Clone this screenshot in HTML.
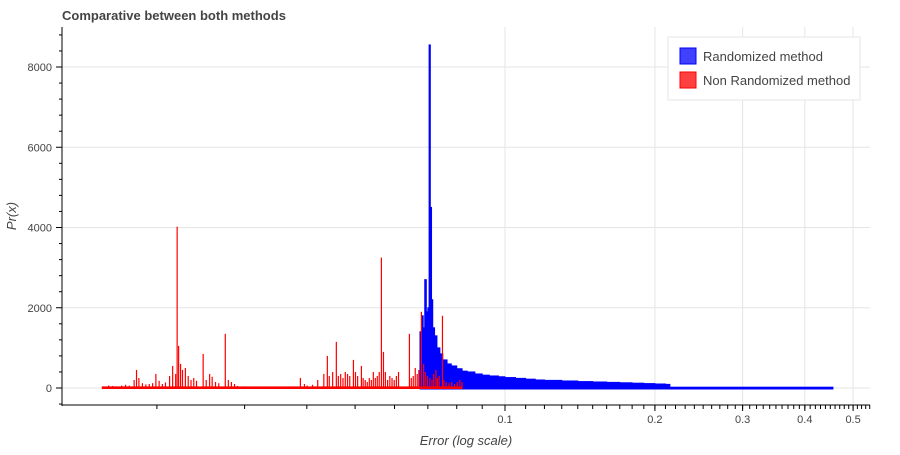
<!DOCTYPE html>
<html><head><meta charset="utf-8"><style>
body{margin:0;background:#fff;font-family:"Liberation Sans",sans-serif}
svg text{font-family:"Liberation Sans",sans-serif}
</style></head><body>
<svg id="chart" width="900" height="450" xmlns="http://www.w3.org/2000/svg">
<rect width="900" height="450" fill="#fff"/>
<text x="62" y="20" font-size="13" font-weight="bold" fill="#444">Comparative between both methods</text>
<g id="grid"></g><g id="bars"></g><g id="axes"></g>
<text transform="translate(16,216) rotate(-90)" text-anchor="middle" font-size="13" font-style="italic" fill="#444">Pr(x)</text>
<text x="466" y="445" text-anchor="middle" font-size="13" font-style="italic" fill="#444">Error (log scale)</text>
<g>
<rect x="668" y="37" width="192" height="63" fill="#fff" stroke="#e5e5e5"/>
<g><rect x="680" y="48" width="16" height="16" fill="#0000ff" fill-opacity="0.75" stroke="#0000ff"/><text x="703" y="61" font-size="13" fill="#444">Randomized method</text></g>
<g><rect x="680" y="72" width="16" height="16" fill="#ff0000" fill-opacity="0.75" stroke="#ff0000"/><text x="703" y="85" font-size="13" fill="#444">Non Randomized method</text></g>
</g>
</svg>
<script>
const redErrors=[0.0156,0.0160,0.0163,0.0166,0.0170,0.0173,0.0176,0.0180,0.0182,0.0184,0.0187,0.0190,0.0193,0.0196,0.0199,0.0202,0.0205,0.0208,0.0212,0.0215,0.0218,0.02195,0.0221,0.0223,0.0225,0.0228,0.0231,0.0234,0.0237,0.0240,0.02475,0.0251,0.0255,0.0258,0.0262,0.0266,0.02741,0.0278,0.0282,0.0286,0.0290,0.0300,0.0310,0.0320,0.0330,0.0340,0.0350,0.0360,0.0370,0.03877,0.0395,0.0400,0.0410,0.0420,0.0432,0.04391,0.0443,0.0450,0.04577,0.0462,0.0467,0.0472,0.0477,0.0482,0.0487,0.04953,0.0500,0.0505,0.05139,0.0518,0.0523,0.0528,0.0533,0.0538,0.0543,0.0548,0.0553,0.0558,0.05636,0.0569,0.0574,0.0580,0.0586,0.0592,0.0598,0.0604,0.0610,0.06415,0.0647,0.0653,0.0659,0.0665,0.0670,0.0678,0.0685,0.0690,0.0697,0.0705,0.0712,0.0718,0.0725,0.0730,0.0736,0.07473,0.0752,0.0760,0.0770,0.0780,0.0790,0.0800,0.0810,0.0818];
const redCounts=[40,60,50,40,60,80,60,200,450,250,120,90,100,120,350,180,100,140,300,550,350,4020,1050,600,450,500,300,200,250,180,850,200,350,280,150,120,1350,200,150,100,50,40,30,25,30,25,25,30,40,250,100,60,80,200,350,800,300,400,1150,300,350,250,400,350,300,700,400,300,550,250,200,150,250,200,400,250,300,400,3250,900,400,200,300,250,200,300,400,1350,250,300,500,350,450,1900,600,400,300,250,200,350,450,250,300,1800,200,150,120,150,100,150,200,150];
const blueEdges=[0.0675,0.0680,0.0685,0.0690,0.0695,0.0700,0.0704,0.0708,0.0712,0.0716,0.0722,0.0730,0.0740,0.0750,0.0765,0.0780,0.0800,0.0820,0.0840,0.0870,0.090,0.093,0.097,0.100,0.105,0.110,0.115,0.120,0.130,0.140,0.150,0.160,0.170,0.180,0.190,0.200,0.210,0.2143];
const blueCounts=[1400,1800,1500,2700,1900,2000,8550,4500,2200,1500,1300,1000,850,700,600,550,480,420,400,350,320,300,280,260,240,220,200,190,175,160,150,140,130,120,110,100,90,20];
const blueEnd=0.4555;
const yTicks=[0,2000,4000,6000,8000];
const xMajor=[0.1,0.2,0.3,0.4,0.5];
const xMajorLabels=["0.1","0.2","0.3","0.4","0.5"];

const L=62,R=870,T=27,B=405;
function X(v){return 505+498*Math.log10(v/0.1);}
function Y(v){return 388-v*0.040125;}
const NS="http://www.w3.org/2000/svg";
function mk(tag,attrs,parent){const e=document.createElementNS(NS,tag);for(const k in attrs)e.setAttribute(k,attrs[k]);parent.appendChild(e);return e;}
const grid=document.getElementById('grid'),bars=document.getElementById('bars'),axes=document.getElementById('axes');
yTicks.forEach(t=>{const l=mk('line',{x1:L,x2:R,y1:Y(t),y2:Y(t),stroke:'#e5e5e5'},grid);

});
xMajor.forEach(t=>{const l=mk('line',{x1:X(t),x2:X(t),y1:T,y2:B,stroke:'#e5e5e5'},grid);

});
// blue
blueEdges.forEach((e,i)=>{const n=i<blueEdges.length-1?blueEdges[i+1]:blueEnd;
const r=mk('rect',{x:X(e),y:Y(blueCounts[i]),width:Math.max(X(n)-X(e),0.5),height:Y(0)-Y(blueCounts[i])+1,fill:'#0000ff',stroke:'#0000ff','stroke-width':1},bars);

});
// red baseline band
const base=mk('rect',{x:X(0.0155),y:Y(40),width:X(0.082)-X(0.0155),height:Y(0)-Y(40)+1,fill:'#ff0000'},bars);


// red
const binW=0.0001;
redErrors.forEach((e,i)=>{const x0=X(e-binW/2),x1=X(e+binW/2);
const r=mk('rect',{x:x0,y:Y(redCounts[i]),width:Math.max(x1-x0,1.2),height:Y(0)-Y(redCounts[i])+1,fill:'#ff0000'},bars);

});
// axes
mk('line',{x1:L,x2:L,y1:T,y2:B+1,stroke:'#000'},axes);
mk('line',{x1:L,x2:R,y1:B,y2:B,stroke:'#000'},axes);
for(let v=-400;v<=8800;v+=400){const major=v%2000===0;mk('line',{x1:L-(major?6:3),x2:L,y1:Y(v),y2:Y(v),stroke:'#000'},axes);}
yTicks.forEach(t=>{const tx=mk('text',{x:L-10,y:Y(t)+4,'text-anchor':'end','font-size':11,fill:'#444'},axes);tx.textContent=t;

});
for(let k=2;k<=9;k++){const p=X(k/100);mk('line',{x1:p,x2:p,y1:B,y2:B+4,stroke:'#000'},axes);}
for(let k=10;k<=54;k++){const v=k/100,p=X(v);if(p>R)break;mk('line',{x1:p,x2:p,y1:B,y2:B+4,stroke:'#000'},axes);}
xMajor.forEach((t,i)=>{mk('line',{x1:X(t),x2:X(t),y1:B,y2:B+6,stroke:'#000'},axes);
const tx=mk('text',{x:X(t),y:B+18,'text-anchor':'middle','font-size':11,fill:'#444'},axes);tx.textContent=xMajorLabels[i];

});
</script>
</body></html>
